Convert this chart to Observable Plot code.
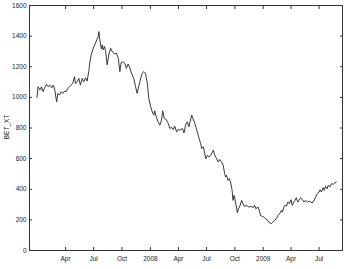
<!DOCTYPE html>
<html>
<head>
<meta charset="utf-8">
<script src="https://cdn.jsdelivr.net/npm/d3@7"></script>
<script src="https://cdn.jsdelivr.net/npm/@observablehq/plot@0.6"></script>
<style>
  html, body { margin: 0; padding: 0; background: #fff; }
</style>
</head>
<body>
<div id="chart"></div>
<script>
const dates = [
  "2006-12-29","2007-01-02","2007-01-08","2007-01-13","2007-01-18","2007-01-23","2007-01-29","2007-02-04","2007-02-09","2007-02-15",
  "2007-02-20","2007-02-25","2007-03-03","2007-03-07","2007-03-12","2007-03-18","2007-03-23","2007-03-29","2007-04-03","2007-04-08",
  "2007-04-14","2007-04-19","2007-04-24","2007-04-30","2007-05-03","2007-05-09","2007-05-14","2007-05-19","2007-05-25","2007-05-30",
  "2007-06-05","2007-06-10","2007-06-15","2007-06-19","2007-06-23","2007-06-28","2007-07-02","2007-07-07","2007-07-11","2007-07-16",
  "2007-07-18","2007-07-21","2007-07-26","2007-07-29","2007-08-01","2007-08-05","2007-08-09","2007-08-14","2007-08-19","2007-08-25",
  "2007-08-30","2007-09-08","2007-09-13","2007-09-19","2007-09-24","2007-09-28","2007-10-04","2007-10-10","2007-10-15","2007-10-21",
  "2007-10-25","2007-11-01","2007-11-08","2007-11-14","2007-11-19","2007-11-24","2007-11-29","2007-12-05","2007-12-11","2007-12-16",
  "2007-12-22","2007-12-27","2008-01-02","2008-01-07","2008-01-12","2008-01-15","2008-01-20","2008-01-26","2008-02-01","2008-02-06",
  "2008-02-10","2008-02-15","2008-02-21","2008-02-28","2008-03-04","2008-03-10","2008-03-15","2008-03-20","2008-03-26","2008-03-31",
  "2008-04-06","2008-04-14","2008-04-19","2008-04-24","2008-04-30","2008-05-05","2008-05-10","2008-05-14","2008-05-18","2008-05-24",
  "2008-06-01","2008-06-07","2008-06-12","2008-06-15","2008-06-21","2008-06-25","2008-06-29","2008-07-04","2008-07-09","2008-07-15",
  "2008-07-20","2008-07-23","2008-07-28","2008-08-03","2008-08-08","2008-08-13","2008-08-19","2008-08-24","2008-08-29","2008-09-01",
  "2008-09-04","2008-09-09","2008-09-13","2008-09-17","2008-09-22","2008-09-25","2008-09-28","2008-10-01","2008-10-06","2008-10-09",
  "2008-10-13","2008-10-18","2008-10-23","2008-10-27","2008-11-01","2008-11-08","2008-11-15","2008-11-23","2008-11-30","2008-12-04",
  "2008-12-08","2008-12-15","2008-12-21","2008-12-23","2008-12-29","2009-01-03","2009-01-09","2009-01-14","2009-01-19","2009-01-27",
  "2009-02-01","2009-02-07","2009-02-12","2009-02-18","2009-02-23","2009-03-01","2009-03-04","2009-03-09","2009-03-12","2009-03-17",
  "2009-03-22","2009-03-27","2009-04-01","2009-04-05","2009-04-10","2009-04-14","2009-04-18","2009-04-23","2009-04-27","2009-05-02",
  "2009-05-08","2009-05-13","2009-05-18","2009-05-24","2009-05-29","2009-06-04","2009-06-09","2009-06-14","2009-06-20","2009-06-25",
  "2009-07-01","2009-07-04","2009-07-09","2009-07-14","2009-07-18","2009-07-22","2009-07-27","2009-07-31","2009-08-05","2009-08-11",
  "2009-08-16","2009-08-21","2009-08-26"
];
const values = [
  1000,1069,1048,1069,1037,1063,1085,1069,1080,1063,
  1080,1048,971,1026,1015,1037,1026,1041,1037,1058,
  1069,1080,1091,1135,1091,1102,1124,1080,1124,1102,
  1128,1107,1168,1233,1277,1310,1332,1354,1375,1397,
  1430,1375,1316,1343,1310,1332,1299,1212,1277,1321,
  1299,1284,1288,1255,1168,1227,1233,1222,1190,1218,
  1200,1157,1124,1069,1026,1069,1113,1157,1168,1157,
  1092,993,938,906,884,912,873,840,819,851,
  912,862,856,830,797,804,790,812,775,790,
  786,797,768,819,840,808,851,884,862,830,
  775,731,699,666,677,633,600,622,611,622,
  644,655,622,600,578,594,578,557,502,480,
  491,458,469,447,393,327,360,338,284,247,
  273,295,327,306,288,295,284,288,280,295,
  273,284,251,229,223,218,207,201,185,175,
  185,196,207,229,240,262,251,284,295,290,
  316,306,332,295,316,327,345,316,327,345,
  332,316,327,316,323,316,310,323,349,371,
  382,397,382,410,393,419,404,426,415,437,
  432,441,447
];
const xDomain = ["2006-12-05", "2009-09-15"];
const xTicks = ["2007-04-01","2007-07-01","2007-10-01","2008-01-01","2008-04-01","2008-07-01","2008-10-01","2009-01-01","2009-04-01","2009-07-01"];
const xTickLabels = ["Apr","Jul","Oct","2008","Apr","Jul","Oct","2009","Apr","Jul"];
const yTicks = [0,200,400,600,800,1000,1200,1400,1600];
const yLabel = "BET_XT";

const parse = d3.utcParse("%Y-%m-%d");
const series = dates.map((d, i) => ({date: parse(d), value: values[i]}));
const tickDates = xTicks.map(parse);
const labelOf = new Map(tickDates.map((d, i) => [+d, xTickLabels[i]]));

const chart = Plot.plot({
  width: 349,
  height: 269,
  marginLeft: 29,
  marginRight: 7,
  marginTop: 5,
  marginBottom: 19,
  style: {fontFamily: "'Liberation Sans', Arial, sans-serif", fontSize: "6.5px", color: "#222", background: "#fff"},
  x: {type: "utc", domain: xDomain.map(parse)},
  y: {domain: [0, 1600]},
  marks: [
    Plot.frame({stroke: "#333", strokeWidth: 1}),
    Plot.axisX(tickDates, {anchor: "bottom", tickSize: -3, tickPadding: 9, tickFormat: d => labelOf.get(+d), label: null, stroke: "#333"}),
    Plot.axisX(tickDates, {anchor: "top", tickSize: -3, tickFormat: () => "", label: null, stroke: "#333"}),
    Plot.axisY(yTicks, {anchor: "left", tickSize: -3, tickPadding: 6, tickFormat: d3.format("d"), label: null, stroke: "#333"}),
    Plot.axisY(yTicks, {anchor: "right", tickSize: -3, tickFormat: () => "", label: null, stroke: "#333"}),
    Plot.line(series, {x: "date", y: "value", stroke: "#222", strokeWidth: 0.9})
  ]
});

const wrap = document.getElementById("chart");
wrap.style.position = "relative";
wrap.style.width = "349px";
wrap.style.height = "269px";
wrap.appendChild(chart);
const lab = document.createElement("div");
lab.textContent = yLabel;
Object.assign(lab.style, {
  position: "absolute", left: "6px", top: "127px",
  transform: "translate(-50%, -50%) rotate(-90deg)",
  fontFamily: "'Liberation Sans', Arial, sans-serif", fontSize: "6.5px", color: "#222",
  whiteSpace: "nowrap"
});
wrap.appendChild(lab);
</script>
</body>
</html>
